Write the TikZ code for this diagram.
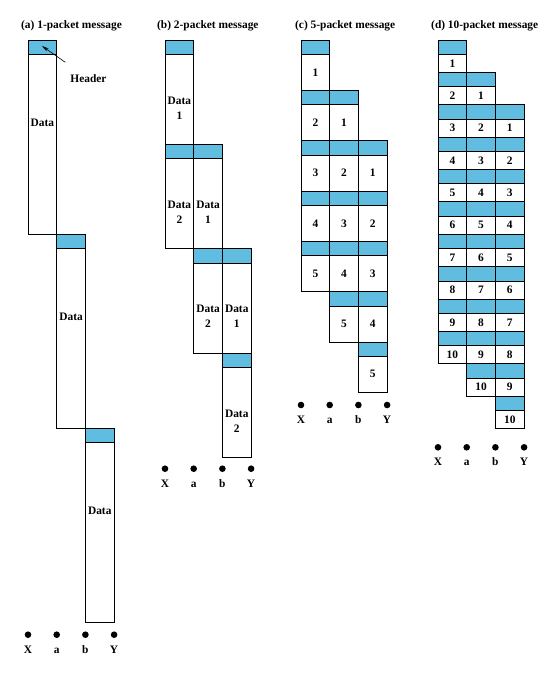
\documentclass[tikz,border=0pt]{standalone}
\usepackage{fontspec}
\setmainfont{Liberation Serif}
\usetikzlibrary{arrows.meta, positioning, calc}
\definecolor{pktblue}{RGB}{96,189,224}

\begin{document}
\begin{tikzpicture}[
    x=1pt, y=-1pt,
    every node/.style={font=\bfseries\fontsize{11.4}{15}\selectfont},
    hdr/.style={rectangle, draw, line width=0.7pt, fill=pktblue, minimum width=28.7pt, minimum height=14.3pt, inner sep=0pt, outer sep=0pt, anchor=north west},
    datbox/.style={rectangle, draw, line width=0.7pt, fill=white, minimum width=28.7pt, inner sep=0pt, outer sep=0pt, anchor=north west},
    lbl/.style={inner sep=1pt, align=center},
    ttl/.style={anchor=base west, inner sep=0pt},
    dot/.style={circle, fill=black, minimum size=6.6pt, inner sep=0pt},
    arrow/.style={-{Stealth[length=7pt, width=3.5pt]}, line width=0.6pt},
]
    \useasboundingbox (0,0) rectangle (557,680);

    % (a) one packet
    \node[ttl] (ttla) at (21,28) {(a) 1-packet message};
    \foreach \c in {0,1,2} {
        \node[hdr] (ah\c) at (28+\c*28.7, 40+\c*194.2) {};
        \node[datbox, minimum height=179.9pt] (ad\c) at (28+\c*28.7, 54.3+\c*194.2) {};
        \node[lbl] (at\c) at (42.35+\c*28.7, 122.5+\c*194.2) {Data};
    }
    \node[lbl] (hdrtxt) at (88.5,78.5) {Header};
    \coordinate (hdrtip) at (42,46);
    \draw[arrow] ($(hdrtxt.north west)+(-4,-11)$) -- (hdrtip);
    \foreach \t [count=\i from 0] in {X,a,b,Y} {
        \node[dot] (a\t) at (28+\i*28.7, 634.7) {};
        \node[lbl, anchor=base] (a\t-l) at (28+\i*28.7, 653.2) {\t};
    }

    % (b) two packets
    \node[ttl] (ttlb) at (157,28) {(b) 2-packet message};
    \foreach \c in {0,1,2} \foreach \r in {1,2} {
        \node[hdr] (bh\c\r) at (165+\c*28.7, 40+\c*104.3+\r*104.3-104.3) {};
        \node[datbox, minimum height=90pt] (bd\c\r) at (165+\c*28.7, 54.3+\c*104.3+\r*104.3-104.3) {};
        \node[lbl] (bt\c\r) at (179.35+\c*28.7, 108+\c*104.3+\r*104.3-104.3) {Data\\\r};
    }
    \foreach \t [count=\i from 0] in {X,a,b,Y} {
        \node[dot] (b\t) at (165+\i*28.7, 468.7) {};
        \node[lbl, anchor=base] (b\t-l) at (165+\i*28.7, 487.8) {\t};
    }

    % (c) five packets
    \node[ttl] (ttlc) at (295,28) {(c) 5-packet message};
    \foreach \c in {0,1,2} \foreach \r in {1,...,5} {
        \node[hdr] (ch\c\r) at (301+\c*28.7, 40+\c*50.33+\r*50.33-50.33) {};
        \node[datbox, minimum height=36pt] (cd\c\r) at (301+\c*28.7, 54.3+\c*50.33+\r*50.33-50.33) {\r};
    }
    \foreach \t [count=\i from 0] in {X,a,b,Y} {
        \node[dot] (c\t) at (301+\i*28.7, 405) {};
        \node[lbl, anchor=base] (c\t-l) at (301+\i*28.7, 423.8) {\t};
    }

    % (d) ten packets
    \node[ttl] (ttld) at (431,28) {(d) 10-packet message};
    \foreach \c in {0,1,2} \foreach \r in {1,...,10} {
        \node[hdr, minimum height=14.4pt] (dh\c\r) at (438+\c*28.7, 40+\c*32.36+\r*32.36-32.36) {};
        \node[datbox, minimum height=18pt] (dd\c\r) at (438+\c*28.7, 54.4+\c*32.36+\r*32.36-32.36) {\r};
    }
    \foreach \t [count=\i from 0] in {X,a,b,Y} {
        \node[dot] (d\t) at (438+\i*28.7, 447.3) {};
        \node[lbl, anchor=base] (d\t-l) at (438+\i*28.7, 465.5) {\t};
    }
\end{tikzpicture}
\end{document}
